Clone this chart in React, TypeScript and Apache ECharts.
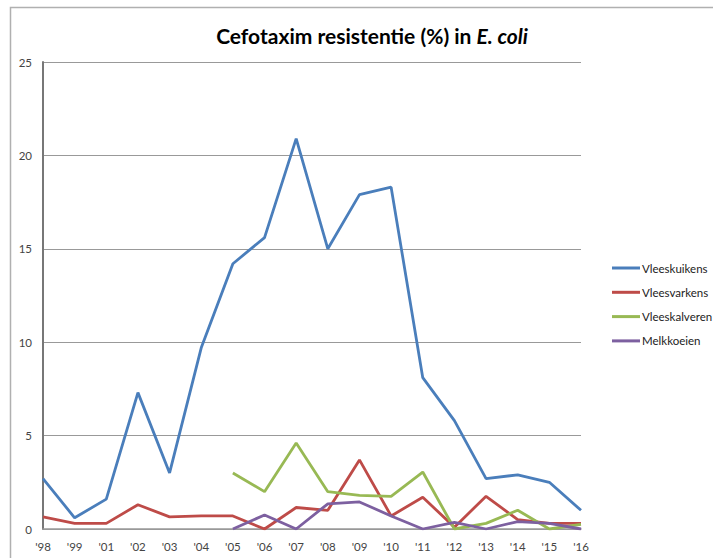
import React, { useEffect, useRef } from "react";
import * as echarts from "echarts";

const years = ["'98", "'99", "'01", "'02", "'03", "'04", "'05", "'06", "'07", "'08", "'09", "'10", "'11", "'12", "'13", "'14", "'15", "'16"];
const vleeskuikens = [2.7, 0.6, 1.6, 7.3, 3.0, 9.7, 14.2, 15.6, 20.9, 15.0, 17.9, 18.3, 8.1, 5.8, 2.7, 2.9, 2.5, 1.0];
const vleesvarkens = [0.65, 0.3, 0.3, 1.3, 0.65, 0.7, 0.7, 0, 1.15, 1.0, 3.7, 0.7, 1.7, 0.1, 1.75, 0.5, 0.3, 0.3];
const vleeskalveren = [null, null, null, null, null, null, 3.0, 2.0, 4.6, 2.0, 1.8, 1.75, 3.05, 0, 0.3, 1.0, 0, 0.25];
const melkkoeien = [null, null, null, null, null, null, 0, 0.75, 0, 1.35, 1.45, 0.7, 0, 0.35, 0, 0.4, 0.3, 0];
const yTicks = [0, 5, 10, 15, 20, 25];

const FONT = "Lato, 'Open Sans', sans-serif";

export default function App() {
  const ref = useRef<HTMLDivElement>(null);
  useEffect(() => {
    const chart = echarts.init(ref.current!, null, { renderer: "svg" });
    const mk = (name: string, data: (number | null)[], color: string) => ({
      name,
      type: "line",
      data,
      symbol: "none",
      connectNulls: false,
      lineStyle: { color, width: 2.8 },
      itemStyle: { color },
    });
    chart.setOption({
      animation: false,
      backgroundColor: "#ffffff",
      graphic: [
        {
          type: "rect",
          shape: { x: 10.5, y: 7.5, width: 760, height: 620 },
          style: { fill: "none", stroke: "#b0b0b0", lineWidth: 1.5 },
          silent: true,
        },
      ],
      title: {
        text: "{n|Cefotaxim resistentie (%) in }{i|E. coli}",
        left: 367,
        textAlign: "center",
        top: 20,
        textStyle: {
          rich: {
            n: { fontFamily: FONT, fontSize: 21, fontWeight: "bold", color: "#000" },
            i: { fontFamily: FONT, fontSize: 21, fontWeight: "bold", fontStyle: "italic", color: "#000" },
          },
        },
      },
      legend: {
        orient: "vertical",
        left: 607,
        top: 256,
        icon: "rect",
        itemWidth: 28,
        itemHeight: 3,
        itemGap: 10.3,
        textStyle: { fontFamily: FONT, fontSize: 11.5, color: "#222", lineHeight: 14, padding: [0, 0, 0, -3] },
        data: ["Vleeskuikens", "Vleesvarkens", "Vleeskalveren", "Melkkoeien"],
      },
      grid: { left: 43, right: 132, top: 62, bottom: 29, containLabel: false },
      xAxis: {
        type: "category",
        data: years,
        boundaryGap: false,
        axisLine: { show: true, lineStyle: { color: "#999", width: 1.5 } },
        axisTick: { show: false },
        axisLabel: { fontFamily: FONT, fontSize: 11.5, color: "#444", margin: 11, interval: 0 },
      },
      yAxis: {
        type: "value",
        min: 0,
        max: 25,
        interval: 5,
        axisLine: { show: true, lineStyle: { color: "#777", width: 2 } },
        axisTick: { show: false },
        splitLine: { show: true, lineStyle: { color: "#999", width: 1.2 } },
        axisLabel: {
          fontFamily: FONT,
          fontSize: 11.5,
          color: "#444",
          margin: 11,
          formatter: (v: number) => (yTicks.includes(v) ? String(v) : ""),
        },
      },
      series: [
        mk("Vleeskuikens", vleeskuikens, "#4a7ebb"),
        mk("Vleesvarkens", vleesvarkens, "#be4b48"),
        mk("Vleeskalveren", vleeskalveren, "#98b954"),
        mk("Melkkoeien", melkkoeien, "#7d60a0"),
      ],
    });
    return () => chart.dispose();
  }, []);
  return (
    <div
      ref={ref}
      style={{ position: "fixed", left: 0, top: 0, width: 713, height: 558 }}
    />
  );
}
